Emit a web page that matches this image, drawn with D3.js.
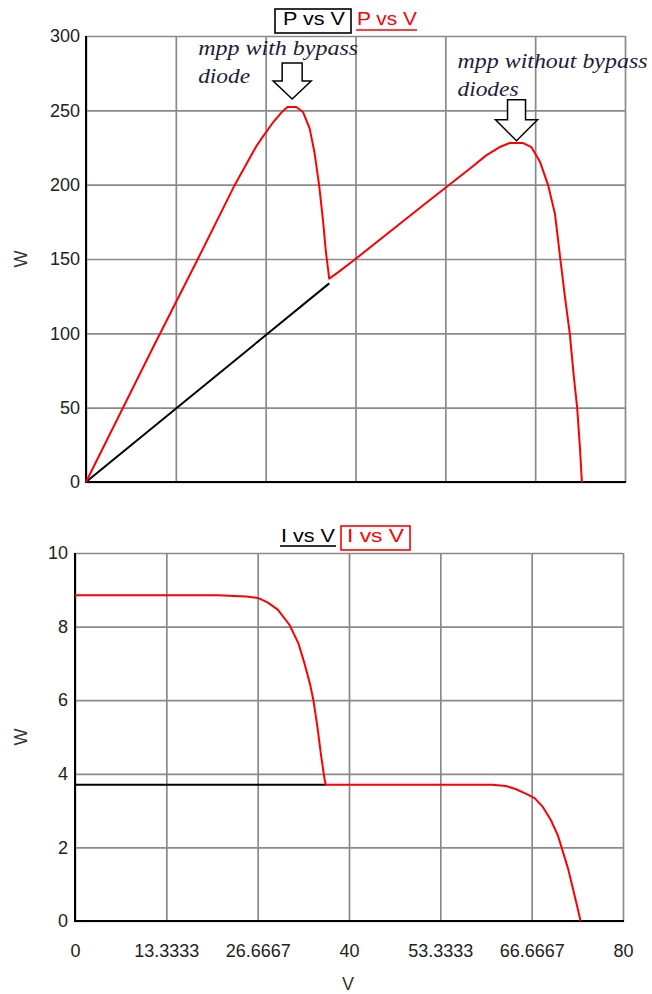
<!DOCTYPE html>
<html>
<head>
<meta charset="utf-8">
<script src="https://cdn.jsdelivr.net/npm/d3@7"></script>
<style>
  body { margin: 0; background: #fff; }
  svg { display: block; font-family: "Liberation Sans", Arial, sans-serif; }
</style>
</head>
<body>
<svg width="652" height="994"></svg>
<script>
// ---- data ----
// top chart: P vs V
var pBlackV = [0, 36.1];
var pBlackP = [0, 133.6];
var pRedV = [0, 10, 16.6, 22.1, 24.3, 25.3, 26.2, 27.7, 29.0, 29.9, 31.2, 32.2, 33.2, 33.9, 34.6, 35.2, 35.6, 36.1,
             37.4, 40, 50, 57.0, 59.4, 61.4, 62.9, 64.9, 66.1, 67.4, 68.6, 69.6, 70.4, 71.1, 71.8, 72.4, 72.9, 73.3, 73.6];
var pRedP = [0, 91, 150, 200, 218, 226, 232, 241.5, 248.5, 252.2, 252.2, 248.9, 237.7, 222, 199.7, 175, 155, 136.8,
             141, 150, 186, 210.9, 219.7, 225.3, 228, 228, 225.3, 215.2, 199.5, 180.5, 150, 124, 100, 71, 50, 24, 0];

// bottom chart: I vs V
var iBlackV = [0, 36.6];
var iBlackI = [3.7, 3.7];
var iRedV = [0, 20.8, 25.0, 26.7, 28.1, 29.6, 31.3, 32.6, 33.5, 34.3, 34.8, 35.4, 35.9, 36.4, 36.6,
             60.9, 62.9, 64.4, 65.8, 67.1, 68.3, 69.5, 70.5, 71.1, 72.0, 72.7, 73.3, 73.8];
var iRedI = [8.85, 8.85, 8.82, 8.78, 8.66, 8.46, 8.05, 7.55, 7.0, 6.45, 6.0, 5.26, 4.53, 3.89, 3.7,
             3.7, 3.67, 3.58, 3.46, 3.34, 3.10, 2.73, 2.32, 1.96, 1.41, 0.87, 0.41, 0];

// ticks
var vTicks = [0, 13.3333, 26.6667, 40, 53.3333, 66.6667, 80];
var pTicks = [0, 50, 100, 150, 200, 250, 300];
var iTicks = [0, 2, 4, 6, 8, 10];

// annotations (arrow tip in data units)
var annV = [30.6, 63.9];
var annP = [257.6, 229.5];
var annText = [["mpp with bypass", "diode"], ["mpp without bypass", "diodes"]];

var svg = d3.select("svg");

var gridColour = "#8a8a8a";

function zip(a, b) {
    return a.map(function (d, i) { return [d, b[i]]; });
}

// draws one panel, returns its scales
function panel(box, yDomain, yTicks, yPad, showX) {
    var x = d3.scaleLinear().domain([0, 80]).range([box.left, box.right]);
    var y = d3.scaleLinear().domain(yDomain).range([box.bottom, box.top]);
    var g = svg.append("g");

    //horizontal grid + y labels
    g.append("g")
        .attr("transform", "translate(" + box.left + ",0)")
        .call(d3.axisLeft(y).tickValues(yTicks).tickSize(-(box.right - box.left)).tickPadding(yPad));
    //vertical grid (+ x labels)
    g.append("g")
        .attr("transform", "translate(0," + box.bottom + ")")
        .call(d3.axisBottom(x).tickValues(vTicks).tickSize(-(box.bottom - box.top)).tickPadding(23)
            .tickFormat(function (d) { return showX ? d : ""; }));

    g.selectAll(".domain").remove();
    g.selectAll(".tick line").attr("stroke", gridColour).attr("stroke-width", 1.7);
    g.selectAll(".tick text")
        .attr("font-size", 18)
        .attr("font-family", "'Liberation Sans', Arial, sans-serif")
        .attr("fill", "#222");

    // black axis lines
    g.append("line").attr("x1", box.left).attr("x2", box.left).attr("y1", box.top).attr("y2", box.bottom + 1)
        .attr("stroke", "#000").attr("stroke-width", 2);
    g.append("line").attr("x1", box.left - 1).attr("x2", box.right + 1).attr("y1", box.bottom).attr("y2", box.bottom)
        .attr("stroke", "#000").attr("stroke-width", 2);

    // y title
    g.append("text")
        .attr("transform", "translate(" + 27 + "," + ((box.top + box.bottom) / 2) + ") rotate(-90)")
        .attr("text-anchor", "middle")
        .attr("font-size", 18)
        .attr("fill", "#333")
        .text("W");

    return { x: x, y: y, g: g };
}

//draw a line series
function series(p, xs, ys, colour) {
    var line = d3.line()
        .x(function (d) { return p.x(d[0]); })
        .y(function (d) { return p.y(d[1]); });
    p.g.append("path")
        .datum(zip(xs, ys))
        .attr("d", line)
        .attr("fill", "none")
        .attr("stroke", colour)
        .attr("stroke-width", 2)
        .attr("stroke-linejoin", "round");
}

/** top chart **/
var pPanel = panel({ left: 86, right: 625, top: 36, bottom: 482 }, [0, 300], pTicks, 6, false);
series(pPanel, pBlackV, pBlackP, "#000");
series(pPanel, pRedV, pRedP, "#ff0000");

// legend
pPanel.g.append("rect").attr("x", 275).attr("y", 9).attr("width", 76).attr("height", 24)
    .attr("fill", "none").attr("stroke", "#000").attr("stroke-width", 1.6);
pPanel.g.append("text").attr("x", 283).attr("y", 25).attr("font-size", 18).attr("fill", "#000")
    .attr("textLength", 62).attr("lengthAdjust", "spacingAndGlyphs").text("P vs V");
pPanel.g.append("text").attr("x", 357).attr("y", 25).attr("font-size", 18).attr("fill", "#ff0000")
    .attr("textLength", 60).attr("lengthAdjust", "spacingAndGlyphs").text("P vs V");
pPanel.g.append("line").attr("x1", 356).attr("x2", 417).attr("y1", 30).attr("y2", 30)
    .attr("stroke", "#ff0000").attr("stroke-width", 1.6);

// annotations
var annOffsets = [{ dx: -94, dy: [-44, -16], len: [160, 52] }, { dx: -59, dy: [-73, -45], len: [190, 61] }];
annV.forEach(function (v, i) {
    var tx = pPanel.x(v), ty = pPanel.y(annP[i]);
    var o = annOffsets[i];
    annText[i].forEach(function (t, j) {
        pPanel.g.append("text")
            .attr("x", tx + o.dx).attr("y", ty + o.dy[j])
            .attr("font-family", "'Liberation Serif', 'Times New Roman', serif")
            .attr("font-style", "italic")
            .attr("font-size", 20)
            .attr("fill", "#1d1d3a")
            .attr("textLength", o.len[j]).attr("lengthAdjust", "spacingAndGlyphs")
            .text(t);
    });
    var hw = i ? 21 : 19, hh = i ? 21 : 18, sw = i ? 9 : 10, h = i ? 41 : 36;
    var pts = [[0, 0], [-hw, -hh], [-sw, -hh], [-sw, -h], [sw, -h], [sw, -hh], [hw, -hh]];
    pPanel.g.append("path")
        .attr("d", "M" + pts.map(function (q) { return (tx + q[0]) + "," + (ty + q[1]); }).join("L") + "Z")
        .attr("fill", "#fff")
        .attr("stroke", "#000")
        .attr("stroke-width", 1.5);
});

/** bottom chart **/
var iPanel = panel({ left: 75, right: 623, top: 553, bottom: 921 }, [0, 10], iTicks, 7, true);
series(iPanel, iBlackV, iBlackI, "#000");
series(iPanel, iRedV, iRedI, "#ff0000");

// legend
iPanel.g.append("text").attr("x", 281).attr("y", 542).attr("font-size", 18).attr("fill", "#000")
    .attr("textLength", 54).attr("lengthAdjust", "spacingAndGlyphs").text("I vs V");
iPanel.g.append("line").attr("x1", 280).attr("x2", 336).attr("y1", 546).attr("y2", 546)
    .attr("stroke", "#333").attr("stroke-width", 1.8);
iPanel.g.append("rect").attr("x", 341).attr("y", 526).attr("width", 69).attr("height", 24)
    .attr("fill", "none").attr("stroke", "#ff0000").attr("stroke-width", 1.6);
iPanel.g.append("text").attr("x", 347).attr("y", 542).attr("font-size", 18).attr("fill", "#ff0000")
    .attr("textLength", 57).attr("lengthAdjust", "spacingAndGlyphs").text("I vs V");

// x title
iPanel.g.append("text")
    .attr("x", (75 + 623) / 2 - 1).attr("y", 990)
    .attr("text-anchor", "middle")
    .attr("font-size", 18)
    .attr("fill", "#333")
    .text("V");
</script>
</body>
</html>
